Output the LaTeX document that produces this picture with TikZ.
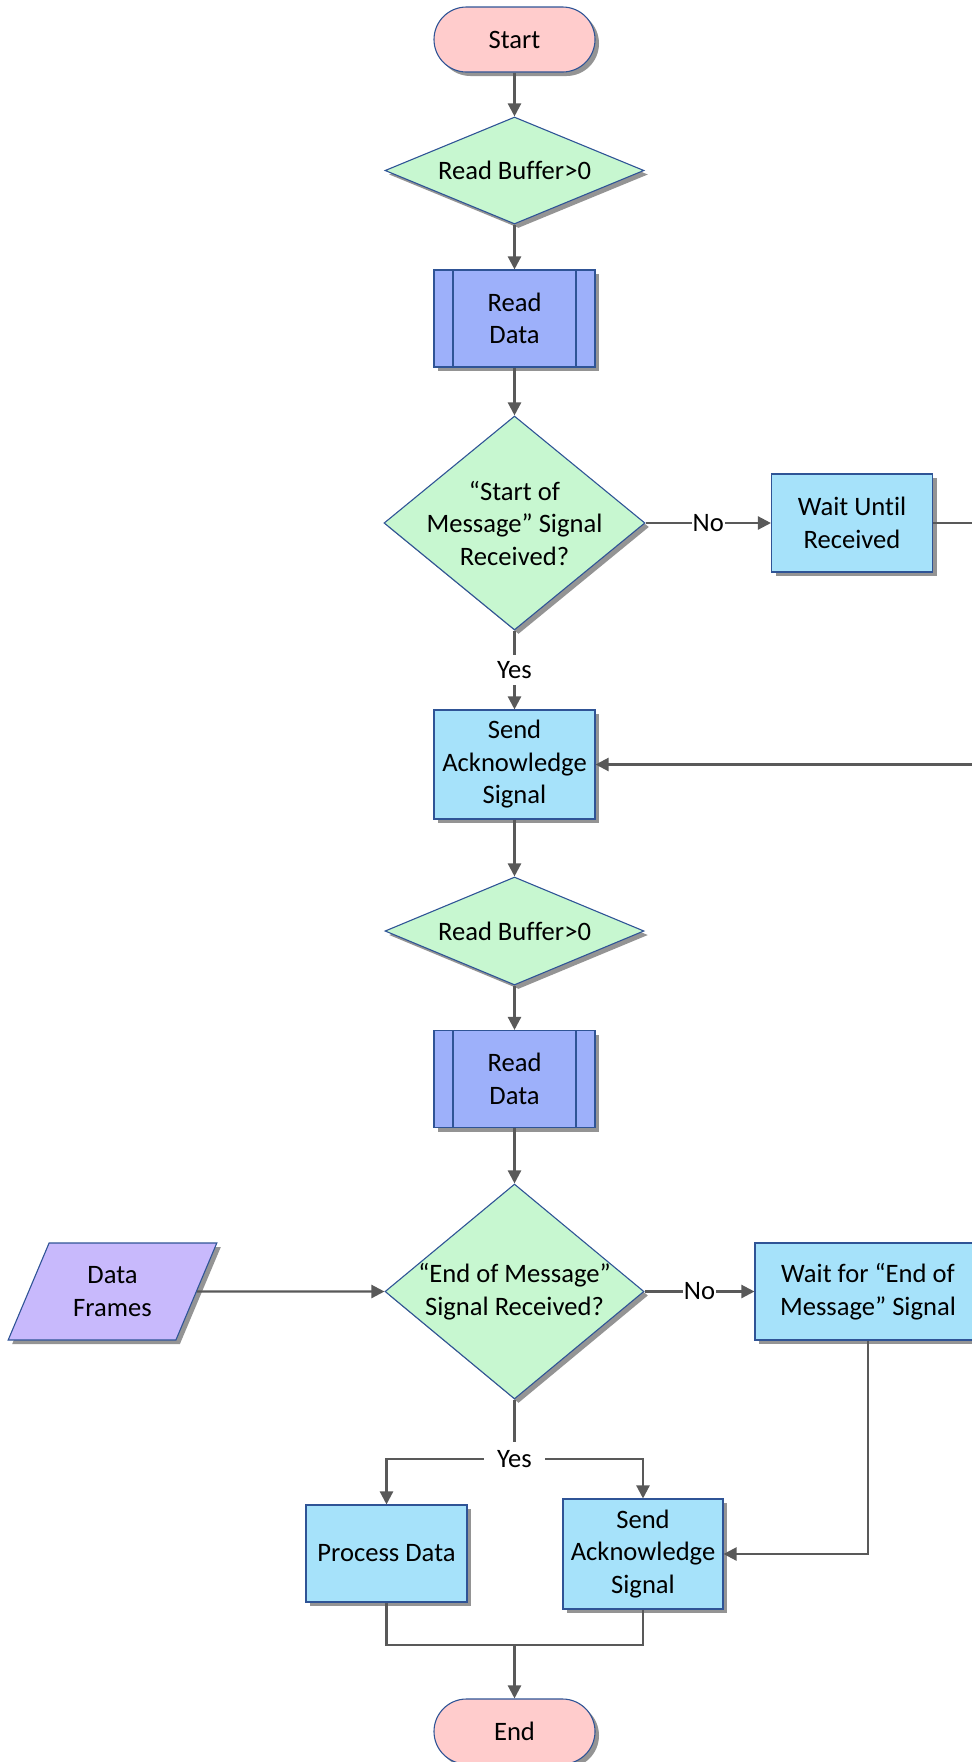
\documentclass[tikz,border=0pt]{standalone}
\usepackage{fontspec}
\setmainfont[Ligatures=NoCommon]{Carlito}
\usetikzlibrary{shapes.geometric,shapes.misc,shadows,arrows.meta}

\definecolor{edgeblue}{RGB}{47,84,150}
\definecolor{termfill}{RGB}{255,204,204}
\definecolor{decfill}{RGB}{199,247,208}
\definecolor{procfill}{RGB}{166,226,250}
\definecolor{subfill}{RGB}{157,176,250}
\definecolor{iofill}{RGB}{200,185,252}
\definecolor{linegray}{RGB}{89,89,89}

\begin{document}
\begin{tikzpicture}[x=1pt,y=-1pt,
  font=\fontsize{26.6}{32.5}\selectfont,
  shapebase/.style={draw=edgeblue,line width=1.1pt,inner sep=0pt,align=center,
    drop shadow={shadow xshift=4pt,shadow yshift=-4pt,fill=black!42,opacity=1}},
  terminal/.style={shapebase,rounded rectangle,fill=termfill,
    minimum width=161pt,minimum height=65pt},
  decision/.style={shapebase,diamond,fill=decfill},
  procbox/.style={shapebase,rectangle,fill=procfill},
  subproc/.style={shapebase,rectangle,fill=subfill,minimum width=161pt,minimum height=97pt,
    path picture={\draw[edgeblue,line width=1.1pt]
      ([xshift=19pt]path picture bounding box.north west) -- ([xshift=19pt]path picture bounding box.south west)
      ([xshift=-19pt]path picture bounding box.north east) -- ([xshift=-19pt]path picture bounding box.south east);}},
  iobox/.style={shapebase,trapezium,trapezium left angle=63,trapezium right angle=117,
    trapezium stretches=true,fill=iofill},
  decisiontext/.style={align=center,inner sep=0pt},
  conn/.style={draw=linegray,line width=2.3pt},
  arrow/.style={conn,-{Triangle[length=13pt,width=13pt]}},
  branch/.style={fill=white,inner xsep=1pt,inner ysep=2pt},
]
\useasboundingbox (0,0) rectangle (972,1762);
\clip (0,0) rectangle (972,1762);

% main column
\node[terminal] (start) at (514.5,39.5) {Start};
\node[decision,minimum width=259pt,minimum height=107pt] (rb1) at (514.5,170.5) {};
\node[decisiontext] (rb1text) at (rb1) {Read Buffer>0};
\node[subproc] (rd1) at (514.5,318.5) {Read\\Data};
\node[decision,minimum width=261pt,minimum height=214pt] (d2) at (514.5,523) {};
\node[decisiontext] (d2text) at (d2) {“Start of\\Message” Signal\\Received?};
\node[procbox,minimum width=161pt,minimum height=98pt] (wait1) at (852,523) {Wait Until\\Received};
\node[procbox,minimum width=161pt,minimum height=109pt] (ack1) at (514.5,764.5) {Send\\Acknowledge\\Signal};
\node[decision,minimum width=259pt,minimum height=108pt] (rb2) at (514.5,931) {};
\node[decisiontext] (rb2text) at (rb2) {Read Buffer>0};
\node[subproc] (rd2) at (514.5,1079) {Read\\Data};
\node[decision,minimum width=259pt,minimum height=215pt] (d4) at (514.5,1291.5) {};
\node[decisiontext] (d4text) at (d4) {“End of Message”\\Signal Received?};
\node[iobox,minimum width=209pt,minimum height=97pt] (df) at (112.5,1291.5) {Data\\Frames};
\node[procbox,minimum width=226pt,minimum height=97pt] (wait2) at (868,1291.5) {Wait for “End of\\Message” Signal};
\node[procbox,minimum width=161pt,minimum height=97pt] (proc) at (386.5,1553.5) {Process Data};
\node[procbox,minimum width=160pt,minimum height=110pt] (ack2) at (643,1554) {Send\\Acknowledge\\Signal};
\node[terminal] (end) at (514.5,1731.5) {End};

% connectors
\draw[arrow] (start.south) -- (rb1.north);
\draw[arrow] (rb1.south) -- (rd1.north);
\draw[arrow] (rd1.south) -- (d2.north);
\draw[arrow] (d2.east) -- node[branch] (no1) {No} (wait1.west);
\draw[arrow] (d2.south) -- node[branch,inner ysep=6pt] (yes1) {Yes} (ack1.north);
\coordinate (loopturn) at (1000,523);
\draw[arrow] (wait1.east) -- (loopturn) |- (ack1.east);
\draw[arrow] (ack1.south) -- (rb2.north);
\draw[arrow] (rb2.south) -- (rd2.north);
\draw[arrow] (rd2.south) -- (d4.north);
\draw[arrow] (df.east) -- (d4.west);
\draw[arrow] (d4.east) -- node[branch] (no2) {No} (wait2.west);
\draw[arrow] (wait2.south) |- (ack2.east);

\coordinate (split) at (514.5,1459);
\draw[conn] (d4.south) -- (split);
\draw[arrow] (split) -| (proc.north);
\draw[arrow] (split) -| (ack2.north);
\node[branch,inner xsep=13pt,inner ysep=8pt] (yes2) at (split) {Yes};

\coordinate (merge) at (514.5,1645);
\draw[conn] (proc.south) |- (merge);
\draw[conn] (ack2.south) |- (merge);
\draw[arrow] (merge) -- (end.north);
\end{tikzpicture}
\end{document}
